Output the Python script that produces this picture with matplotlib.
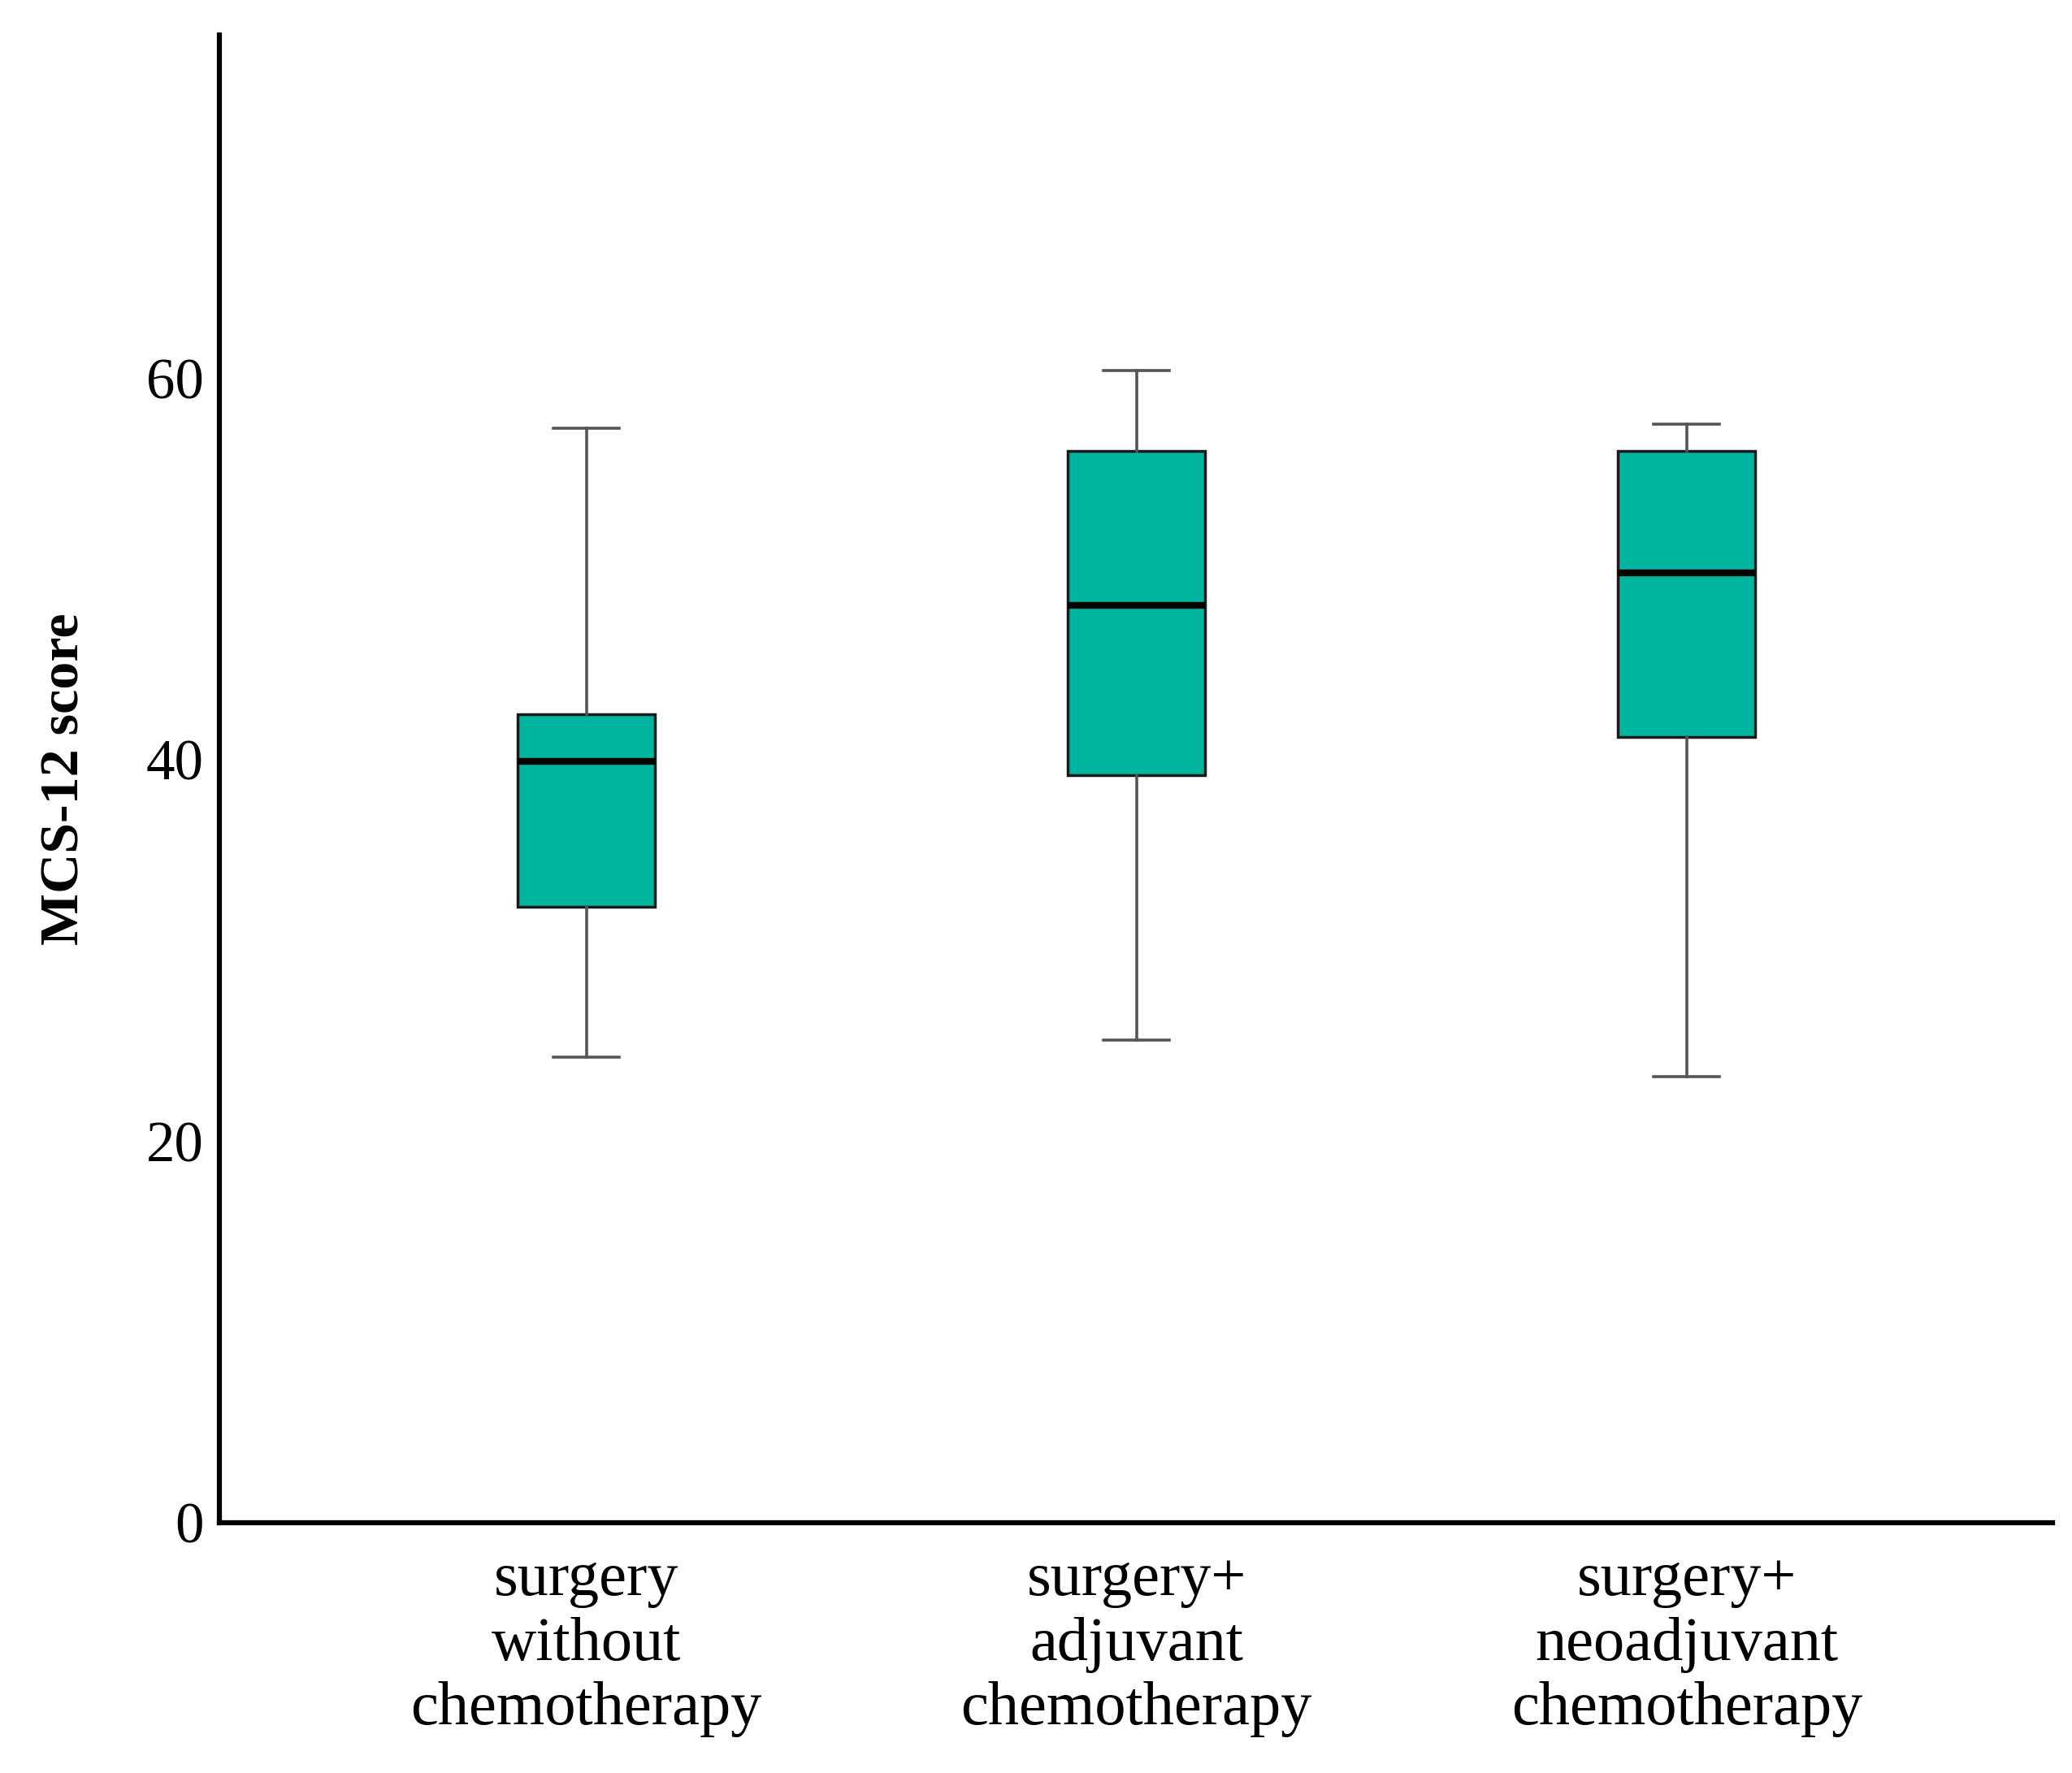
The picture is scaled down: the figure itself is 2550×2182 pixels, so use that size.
import matplotlib
matplotlib.use("Agg")
import matplotlib.pyplot as plt

# Box summary values
groups = ["surgery\nwithout\nchemotherapy",
          "surgery+\nadjuvant\nchemotherapy",
          "surgery+\nneoadjuvant\nchemotherapy"]
whisker_low = [24.4, 25.3, 23.4]
q1 = [32.3, 39.2, 41.2]
median = [39.9, 48.1, 49.8]
q3 = [42.4, 56.2, 56.2]
whisker_high = [57.4, 60.4, 57.6]

plt.rcParams['font.family'] = ['Liberation Serif', 'DejaVu Serif']

fig = plt.figure(figsize=(25.5, 21.82), dpi=100)
ax = fig.add_axes([0.1059, 0.1412, 0.8847, 0.8391])

stats = []
for i in range(len(groups)):
    stats.append({"whislo": whisker_low[i], "q1": q1[i], "med": median[i],
                  "q3": q3[i], "whishi": whisker_high[i], "fliers": []})

positions = [1, 2, 3]
ax.bxp(stats, positions=positions, widths=0.25, patch_artist=True,
       showfliers=False,
       boxprops=dict(facecolor="#00B5A0", edgecolor="#1a1a1a", linewidth=2.5),
       medianprops=dict(color="black", linewidth=6),
       whiskerprops=dict(color="#555555", linewidth=2.6),
       capprops=dict(color="#555555", linewidth=2.6),
       capwidths=0.12)

ax.set_xlim(0.333, 3.665)
ax.set_ylim(0, 78)
ax.set_yticks([0, 20, 40, 60])
ax.set_xticks(positions)
ax.set_xticklabels(groups, fontsize=55, linespacing=1.2)
ax.tick_params(axis="y", length=0, labelsize=51, pad=14)
ax.tick_params(axis="x", length=0, pad=26)

ax.spines["top"].set_visible(False)
ax.spines["right"].set_visible(False)
ax.spines["left"].set_linewidth(4.5)
ax.spines["bottom"].set_linewidth(4.5)

ax.set_ylabel("MCS-12 score", fontsize=49, fontweight="bold", labelpad=50)

fig.savefig("out.png", dpi=100)
